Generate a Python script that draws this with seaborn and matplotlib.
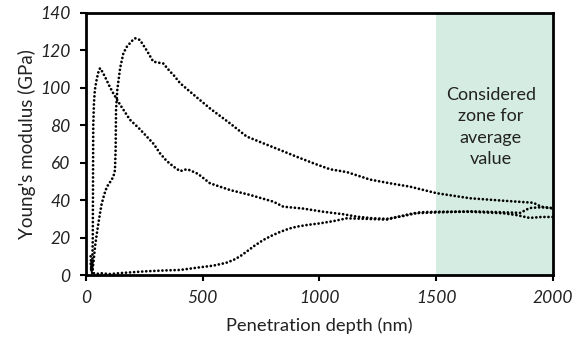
import numpy as np
import pandas as pd
import matplotlib
matplotlib.use("Agg")
import matplotlib.pyplot as plt
import seaborn as sns

# ---- data ----
a_x = [20, 24, 27, 29, 30, 31, 34, 38, 45, 52, 60, 68, 81, 100, 117, 146, 188, 230, 260, 290,
       317, 345, 374, 403, 431, 445, 480, 531, 617, 702, 802, 845, 930, 1016, 1100, 1159, 1230,
       1288, 1359, 1430, 1500, 1645, 1787, 1845, 1900, 1950, 2000]
a_y = [6, 2, 5, 20, 50, 80, 92, 99, 104, 108, 110.5, 109, 106, 101, 97, 91, 83, 78, 74, 70,
       65, 61, 58, 55.5, 56.5, 56, 54, 49, 45.4, 42.8, 39.2, 36.5, 35.5, 33.8, 32.5, 31.2, 30.3,
       30, 31.5, 33.5, 33.8, 33.8, 33, 32, 30.5, 31, 31]

b_x = [22, 26, 30, 33, 38.5, 45, 53, 60, 67, 78, 89, 105, 117, 124, 127, 128.5, 134, 146, 160,
       175, 196, 210, 231, 260, 288, 331, 360, 374, 403, 445, 488, 531, 617, 688, 759, 831,
       902, 974, 1045, 1117, 1216, 1302, 1388, 1502, 1645, 1787, 1916, 1950, 2000]
b_y = [3, 1, 5, 8, 15, 21, 27.6, 33, 38, 43, 47, 50, 52.5, 56, 68, 88, 99, 110.5, 118.5,
       122, 125, 126.5, 125.6, 120, 114, 113, 108.7, 107, 102.5, 98, 93.5, 89, 81, 74, 70.4, 66.8,
       63.2, 59.7, 56.5, 55, 51, 49, 47.2, 43.7, 41, 39.7, 38.6, 36.5, 35.7]

c_x = [20, 23, 26, 28, 32, 45, 60, 100, 146, 200, 260, 350, 403, 481, 545, 600, 631, 660, 688,
       720, 759, 795, 831, 870, 902, 950, 1002, 1060, 1117, 1200, 1288, 1350, 1402, 1516, 1650,
       1787, 1860, 1900, 1950, 2000]
c_y = [10, 4, 8, 3, 1, 0.5, 1, 0.5, 1, 1.5, 2, 2.5, 2.7, 4, 5, 6.5, 8, 10, 12.5,
       15.5, 18.7, 21, 23, 24.8, 25.8, 26.8, 27.6, 28.8, 30.3, 30, 29.6, 31.5, 33, 33.5, 34,
       33.5, 33.2, 35.8, 36.2, 35.6]

x_ticks = [0, 500, 1000, 1500, 2000]
y_ticks = [0, 20, 40, 60, 80, 100, 120, 140]
zone = [1500, 2000]
zone_text = "Considered\nzone for\naverage\nvalue"
x_label = "Penetration depth (nm)"
y_label = "Young's modulus (GPa)"

df = pd.concat([
    pd.DataFrame({"x": a_x, "y": a_y, "s": "A"}),
    pd.DataFrame({"x": b_x, "y": b_y, "s": "B"}),
    pd.DataFrame({"x": c_x, "y": c_y, "s": "C"}),
], ignore_index=True)

sns.set_style("ticks")
plt.rcParams["font.family"] = ["Lato", "DejaVu Sans"]

fig = plt.figure(figsize=(5.8, 3.42), dpi=100)
ax = fig.add_axes([0.1483, 0.1959, 0.8051, 0.7661])

ax.axvspan(zone[0], zone[1], color="#d5ece2", zorder=0, lw=0)

for s in ["A", "B", "C"]:
    sub = df[df["s"] == s]
    sns.lineplot(data=sub, x="x", y="y", sort=False, estimator=None, ax=ax,
                 color="black", linewidth=2.0, linestyle=(0, (0.01, 1.45)),
                 dash_capstyle="round", legend=False)

ax.set_xlim(0, 2000)
ax.set_ylim(0, 140)
ax.set_xticks(x_ticks)
ax.set_yticks(y_ticks)
ax.set_xticklabels([str(t) for t in x_ticks], fontstyle="italic", fontsize=12.5, color="#222222")
ax.set_yticklabels([str(t) for t in y_ticks], fontstyle="italic", fontsize=12.5, color="#222222")
ax.tick_params(axis="both", direction="out", length=4, width=1.5, pad=7, color="black")

for sp in ax.spines.values():
    sp.set_visible(True)
    sp.set_linewidth(2)
    sp.set_color("black")

ax.set_xlabel(x_label, fontsize=13.2, color="#222222", labelpad=8)
ax.set_ylabel(y_label, fontsize=13.5, color="#222222", labelpad=3)

ax.text(1734, 79, zone_text, ha="center", va="center", fontsize=13,
        color="#222222", linespacing=1.42)

fig.savefig("out.png", dpi=100)
